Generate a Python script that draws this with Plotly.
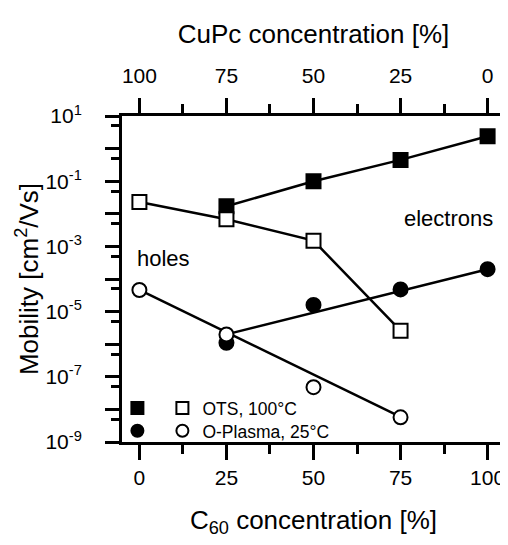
import plotly.graph_objects as go

# ---- data ----
c60_ticks = [0, 25, 50, 75, 100]
cupc_ticks = [100, 75, 50, 25, 0]
x_minor = [12.5, 37.5, 62.5, 87.5]

ots_e_x = [25, 50, 75, 100]
ots_e_y = [0.017, 0.10, 0.45, 2.4]
ots_h_x = [0, 25, 50, 75]
ots_h_y = [0.023, 0.0068, 0.0015, 2.6e-6]

plasma_e_x = [25, 50, 75, 100]
plasma_e_y = [1.1e-6, 1.6e-5, 4.8e-5, 2.0e-4]
plasma_h_x = [0, 25, 50, 75]
plasma_h_y = [4.6e-5, 2.0e-6, 4.8e-8, 5.7e-9]

plasma_e_fit_x = [25, 100]
plasma_e_fit_y = [2.0e-6, 2.0e-4]
plasma_h_fit_x = [0, 75]
plasma_h_fit_y = [4.6e-5, 5.9e-9]

decades = list(range(-9, 2))
y_tickvals = [10.0 ** d for d in decades]
y_ticktext = [("10<sup>%d</sup>" % d) if d % 2 != 0 else "" for d in decades]
y_minor = [5 * 10.0 ** d for d in range(-9, 1)]

FONT = "Liberation Sans, Arial, sans-serif"
LW = 2.5

fig = go.Figure()

# lines
for xs, ys in [(ots_e_x, ots_e_y), (ots_h_x, ots_h_y),
               (plasma_e_fit_x, plasma_e_fit_y), (plasma_h_fit_x, plasma_h_fit_y)]:
    fig.add_trace(go.Scatter(x=xs, y=ys, mode="lines", showlegend=False,
                             line=dict(color="black", width=LW), hoverinfo="skip"))

def markers(xs, ys, symbol, fill, name, legend):
    return go.Scatter(x=xs, y=ys, mode="markers", name=name, legend=legend,
                      marker=dict(symbol=symbol, size=14, color=fill,
                                  line=dict(color="black", width=2)))

fig.add_trace(markers(ots_e_x, ots_e_y, "square", "black", "", "legend"))
fig.add_trace(markers(ots_h_x, ots_h_y, "square", "white", "OTS, 100°C", "legend"))
fig.add_trace(markers(plasma_e_x, plasma_e_y, "circle", "black", "", "legend2"))
fig.add_trace(markers(plasma_h_x, plasma_h_y, "circle", "white", "O-Plasma, 25°C", "legend2"))

# invisible carriers so the top (CuPc) axis and right mirror axis are drawn
fig.add_trace(go.Scatter(x=cupc_ticks, y=[y_tickvals[0]] * len(cupc_ticks), xaxis="x2",
                         yaxis="y", mode="markers", marker=dict(opacity=0),
                         showlegend=False, hoverinfo="skip"))
fig.add_trace(go.Scatter(x=[c60_ticks[0]] * len(y_tickvals), y=y_tickvals, xaxis="x",
                         yaxis="y2", mode="markers", marker=dict(opacity=0),
                         showlegend=False, hoverinfo="skip"))

axis_common = dict(showline=True, linewidth=3, linecolor="black", showgrid=False,
                   zeroline=False, ticks="outside", tickwidth=3, tickcolor="black",
                   automargin=False,
                   tickfont=dict(family=FONT, size=21, color="black"))

TITLE_SIZE = 26

# the page body adds an 8px margin, so the figure is 500x537 placed at (8,8)
fig.update_layout(
    width=500, height=537, autosize=False,
    margin=dict(l=114, r=3, t=108, b=103),
    paper_bgcolor="white", plot_bgcolor="white",
    font=dict(family=FONT, color="black"),
    xaxis=dict(**axis_common, range=[-5, 105], tickmode="array", tickvals=c60_ticks,
               ticklen=15,
               minor=dict(tickmode="array", tickvals=x_minor, ticklen=9, tickwidth=3,
                          tickcolor="black", ticks="outside", showgrid=False),
               title=dict(text="C<sub>60</sub> concentration [%]",
                          font=dict(family=FONT, size=TITLE_SIZE), standoff=23)),
    xaxis2=dict(**axis_common, overlaying="x", side="top", anchor="y",
                range=[105, -5], tickmode="array", tickvals=cupc_ticks, ticklen=15,
                ticklabelstandoff=7,
                minor=dict(tickmode="array", tickvals=x_minor, ticklen=9, tickwidth=3,
                           tickcolor="black", ticks="outside", showgrid=False),
                title=dict(text="CuPc concentration [%]",
                           font=dict(family=FONT, size=TITLE_SIZE), standoff=13)),
    yaxis=dict(**axis_common, type="log", range=[-9, 1], tickmode="array",
               tickvals=y_tickvals, ticktext=y_ticktext, ticklen=14,
               ticklabelstandoff=19,
               minor=dict(tickmode="array", tickvals=y_minor, ticklen=8, tickwidth=3,
                          tickcolor="black", ticks="outside", showgrid=False),
               title=dict(text="Mobility [cm<sup>2</sup>/Vs]",
                          font=dict(family=FONT, size=TITLE_SIZE), standoff=0)),
    yaxis2=dict(showline=True, linewidth=3, linecolor="black", showgrid=False,
                zeroline=False, overlaying="y", side="right", anchor="x",
                automargin=False,
                type="log", range=[-9, 1], tickmode="array", tickvals=y_tickvals,
                ticks="inside", ticklen=4, tickwidth=2, tickcolor="black",
                showticklabels=False,
                minor=dict(tickmode="array", tickvals=y_minor, ticklen=4, tickwidth=2,
                           tickcolor="black", ticks="inside", showgrid=False)),
    legend=dict(orientation="h", x=-0.012, y=0.104, xanchor="left", yanchor="middle",
                font=dict(family=FONT, size=17.5), itemsizing="constant",
                bgcolor="rgba(0,0,0,0)", borderwidth=0),
    legend2=dict(orientation="h", x=-0.012, y=0.034, xanchor="left", yanchor="middle",
                 font=dict(family=FONT, size=17.5), itemsizing="constant",
                 bgcolor="rgba(0,0,0,0)", borderwidth=0),
    annotations=[
        dict(text="holes", x=-1.3, y=-3.36, xref="x", yref="y", xanchor="left",
             yanchor="middle", showarrow=False, font=dict(family=FONT, size=22)),
        dict(text="electrons", x=102.2, y=-2.13, xref="x", yref="y", xanchor="right",
             yanchor="middle", showarrow=False, font=dict(family=FONT, size=22)),
    ],
)

fig.write_html("out.html")
